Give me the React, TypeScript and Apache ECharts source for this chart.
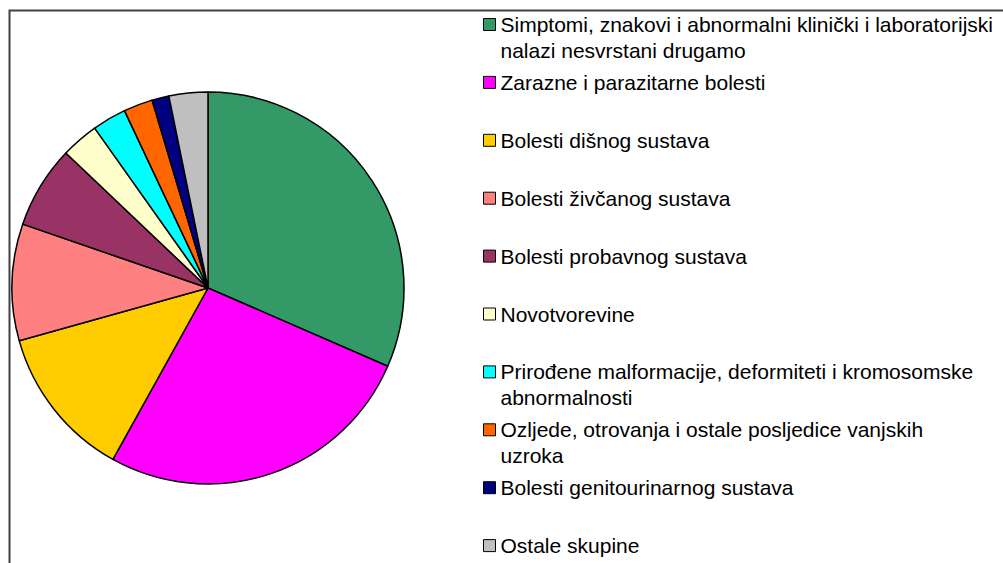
import React, { useEffect, useRef } from "react";
import * as echarts from "echarts";

const categories: string[] = [
  "Simptomi, znakovi i abnormalni klinički i laboratorijski\nnalazi nesvrstani drugamo",
  "Zarazne i parazitarne bolesti",
  "Bolesti dišnog sustava",
  "Bolesti živčanog sustava",
  "Bolesti probavnog sustava",
  "Novotvorevine",
  "Prirođene malformacije, deformiteti i kromosomske\nabnormalnosti",
  "Ozljede, otrovanja i ostale posljedice vanjskih\nuzroka",
  "Bolesti genitourinarnog sustava",
  "Ostale skupine",
];

const values: number[] = [31.5, 26.5, 12.6, 9.6, 6.8, 3.1, 2.8, 2.4, 1.4, 3.2];

const colors: string[] = [
  "#339966",
  "#FF00FF",
  "#FFCC00",
  "#FF8080",
  "#993366",
  "#FFFFCC",
  "#00FFFF",
  "#FF6600",
  "#000080",
  "#C0C0C0",
];

// legend marker: a 12x12 square aligned with the first text line, inside a 12x52 box
const legendIcon = "path://M0,0 L0,0 M0,7 L12,7 L12,19 L0,19 Z M12,52 L12,52";

export default function App() {
  const ref = useRef<HTMLDivElement>(null);
  useEffect(() => {
    if (!ref.current) return;
    const chart = echarts.init(ref.current, null, { renderer: "svg" });
    chart.setOption({
      animation: false,
      backgroundColor: "#ffffff",
      graphic: [
        {
          type: "rect",
          shape: { x: 9.5, y: 10.5, width: 1200, height: 700 },
          style: { fill: "none", stroke: "#404040", lineWidth: 2 },
          silent: true,
          z: 0,
        },
      ],
      legend: {
        orient: "vertical",
        left: 483,
        top: 11,
        height: 800,
        padding: 0,
        itemWidth: 12,
        itemHeight: 52,
        itemGap: 4.9,
        icon: legendIcon,
        itemStyle: { borderColor: "#000000", borderWidth: 1 },
        selectedMode: false,
        formatter: (name: string) => (name.includes("\n") ? name : name + "\n "),
        textStyle: {
          fontFamily: "'Liberation Sans', Arial, sans-serif",
          fontSize: 21,
          lineHeight: 26,
          color: "#000000",
        },
        data: categories,
      },
      series: [
        {
          type: "pie",
          center: [208, 288],
          radius: 196,
          startAngle: 90,
          clockwise: true,
          label: { show: false },
          labelLine: { show: false },
          emphasis: { disabled: true },
          itemStyle: { borderColor: "#000000", borderWidth: 1.5 },
          data: categories.map((c, i) => ({
            name: c,
            value: values[i],
            itemStyle: { color: colors[i] },
          })),
        },
      ],
    });
    return () => chart.dispose();
  }, []);
  return (
    <div
      ref={ref}
      style={{ position: "fixed", left: 0, top: 0, width: 1003, height: 563 }}
    />
  );
}
